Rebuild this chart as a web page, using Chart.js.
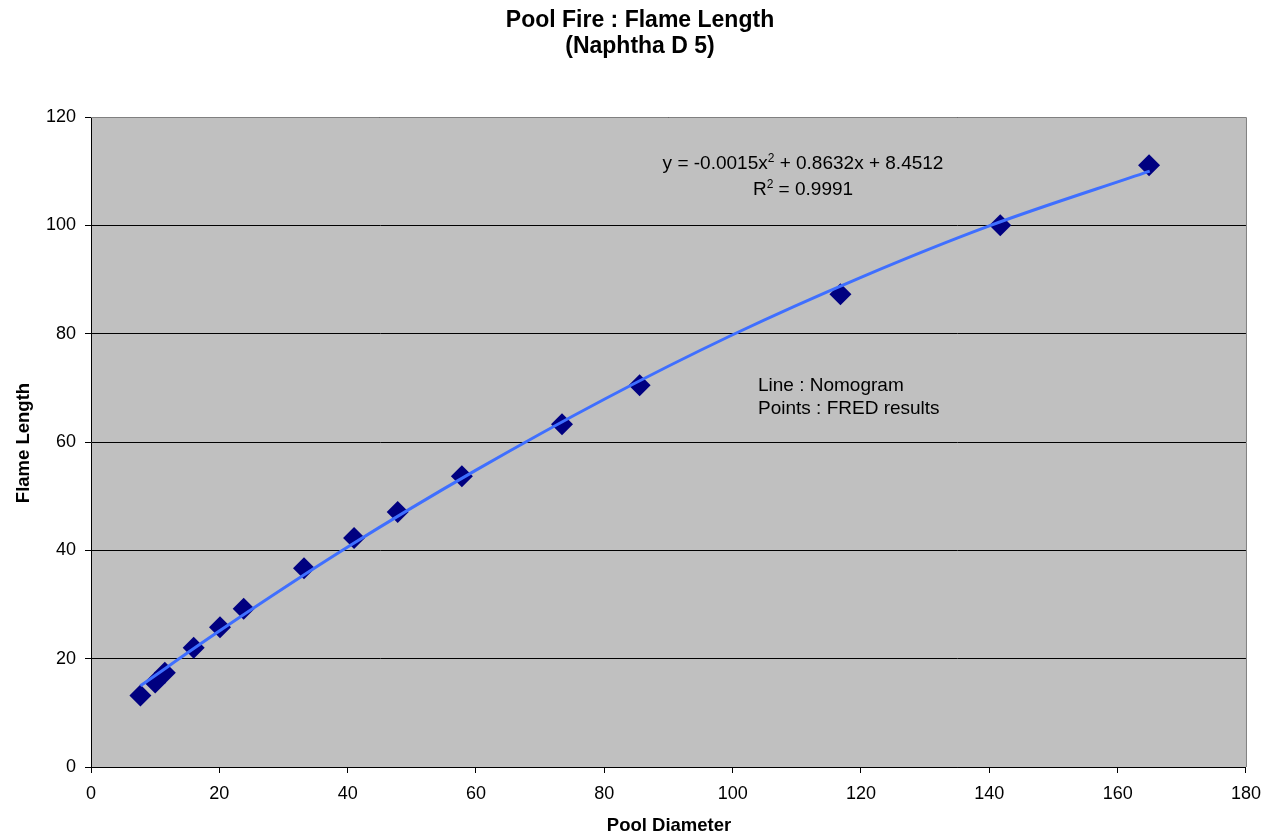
<!DOCTYPE html>
<html>
<head>
<meta charset="utf-8">
<script src="https://cdn.jsdelivr.net/npm/chart.js@4"></script>
<style>
html,body{margin:0;padding:0;background:#fff;}
#wrap{width:1271px;height:836px;position:relative;}
</style>
</head>
<body>
<div id="wrap"><canvas id="c" width="1271" height="836"></canvas></div>
<script>
// FRED results (points)
const pointX = [7.7, 10.0, 11.5, 16.0, 20.1, 23.8, 33.2, 41.0, 47.8, 57.8, 73.4, 85.5, 116.8, 141.7, 164.9];
const pointY = [13.2, 15.6, 17.4, 22.0, 25.8, 29.2, 36.7, 42.3, 47.1, 53.7, 63.3, 70.5, 87.3, 100.0, 111.1];
// Nomogram line
const lineX = [7.7, 20, 40, 60, 80, 100, 120, 140, 165];
const lineY = [15.0, 25.1, 40.6, 54.8, 67.9, 79.8, 90.4, 99.9, 110.0];
// axes
const xTicks = [0, 20, 40, 60, 80, 100, 120, 140, 160, 180];
const yTicks = [0, 20, 40, 60, 80, 100, 120];
const titleLines = ['Pool Fire : Flame Length', '(Naphtha D 5)'];
const xTitle = 'Pool Diameter';
const yTitle = 'Flame Length';

const FONT = '"Liberation Sans", Arial, sans-serif';

const bgPlugin = {
  id: 'bg',
  beforeDraw(chart) {
    const {ctx, chartArea: a} = chart;
    ctx.save();
    ctx.fillStyle = '#fff';
    ctx.fillRect(0, 0, chart.width, chart.height);
    ctx.fillStyle = '#C0C0C0';
    ctx.fillRect(a.left, a.top, a.right - a.left, a.bottom - a.top);
    ctx.restore();
  },
  afterDraw(chart) {
    const {ctx, chartArea: a} = chart;
    ctx.save();
    // grey top/right border
    ctx.strokeStyle = '#808080';
    ctx.lineWidth = 1;
    ctx.beginPath();
    ctx.moveTo(a.left, a.top + 0.5);
    ctx.lineTo(a.right + 0.5, a.top + 0.5);
    ctx.lineTo(a.right + 0.5, a.bottom);
    ctx.stroke();
    // titles
    ctx.fillStyle = '#000';
    ctx.textAlign = 'center';
    ctx.textBaseline = 'middle';
    ctx.font = 'bold 23px ' + FONT;
    ctx.fillText(titleLines[0], 640, 21);
    ctx.fillText(titleLines[1], 640, 47);
    ctx.font = 'bold 18.5px ' + FONT;
    ctx.fillText(xTitle, 669, 826);
    ctx.save();
    ctx.translate(24, 443);
    ctx.rotate(-Math.PI / 2);
    ctx.fillText(yTitle, 0, 0);
    ctx.restore();
    // equation
    ctx.textBaseline = 'alphabetic';
    ctx.textAlign = 'left';
    const drawSup = (parts, cx, y) => {
      let w = 0;
      parts.forEach(p => {
        ctx.font = (p[1] ? '12px ' : '19px ') + FONT;
        w += ctx.measureText(p[0]).width;
      });
      let x = cx - w / 2;
      parts.forEach(p => {
        ctx.font = (p[1] ? '12px ' : '19px ') + FONT;
        ctx.fillText(p[0], x, p[1] ? y - 7 : y);
        x += ctx.measureText(p[0]).width;
      });
    };
    drawSup([['y = -0.0015x'], ['2', true], [' + 0.8632x + 8.4512']], 803, 169);
    drawSup([['R'], ['2', true], [' = 0.9991']], 803, 195);
    ctx.font = '19px ' + FONT;
    ctx.fillText('Line : Nomogram', 758, 391);
    ctx.fillText('Points : FRED results', 758, 414);
    ctx.restore();
  }
};

new Chart(document.getElementById('c'), {
  type: 'scatter',
  data: {
    datasets: [
      {
        label: 'Nomogram',
        data: lineX.map((x, i) => ({x, y: lineY[i]})),
        showLine: true,
        borderColor: '#3F6FFF',
        borderWidth: 3,
        pointRadius: 0,
        cubicInterpolationMode: 'monotone',
        order: 0
      },
      {
        label: 'FRED results',
        data: pointX.map((x, i) => ({x, y: pointY[i]})),
        showLine: false,
        pointStyle: 'rectRot',
        pointRadius: 11,
        pointBackgroundColor: '#000080',
        pointBorderColor: '#000080',
        pointBorderWidth: 0,
        order: 1
      }
    ]
  },
  options: {
    responsive: false,
    animation: false,
    layout: {padding: {top: 117, right: 23, left: 0, bottom: 0}},
    plugins: {legend: {display: false}, tooltip: {enabled: false}, title: {display: false}},
    scales: {
      x: {
        type: 'linear',
        min: 0, max: 180,
        afterBuildTicks(s) { s.ticks = xTicks.map(v => ({value: v})); },
        afterFit(s) { s.height = 69; },
        grid: {drawOnChartArea: false, drawTicks: true, tickLength: 6, color: '#000', tickColor: '#000'},
        border: {color: '#000', width: 1},
        ticks: {color: '#000', font: {family: FONT, size: 18}, padding: 10, maxRotation: 0}
      },
      y: {
        type: 'linear',
        min: 0, max: 120,
        afterBuildTicks(s) { s.ticks = yTicks.map(v => ({value: v})); },
        afterFit(s) { s.width = 91; },
        grid: {drawOnChartArea: true, drawTicks: true, tickLength: 6, color: '#000', tickColor: '#000'},
        border: {color: '#000', width: 1},
        ticks: {color: '#000', font: {family: FONT, size: 18}, padding: 9}
      }
    }
  },
  plugins: [bgPlugin]
});
</script>
</body>
</html>
